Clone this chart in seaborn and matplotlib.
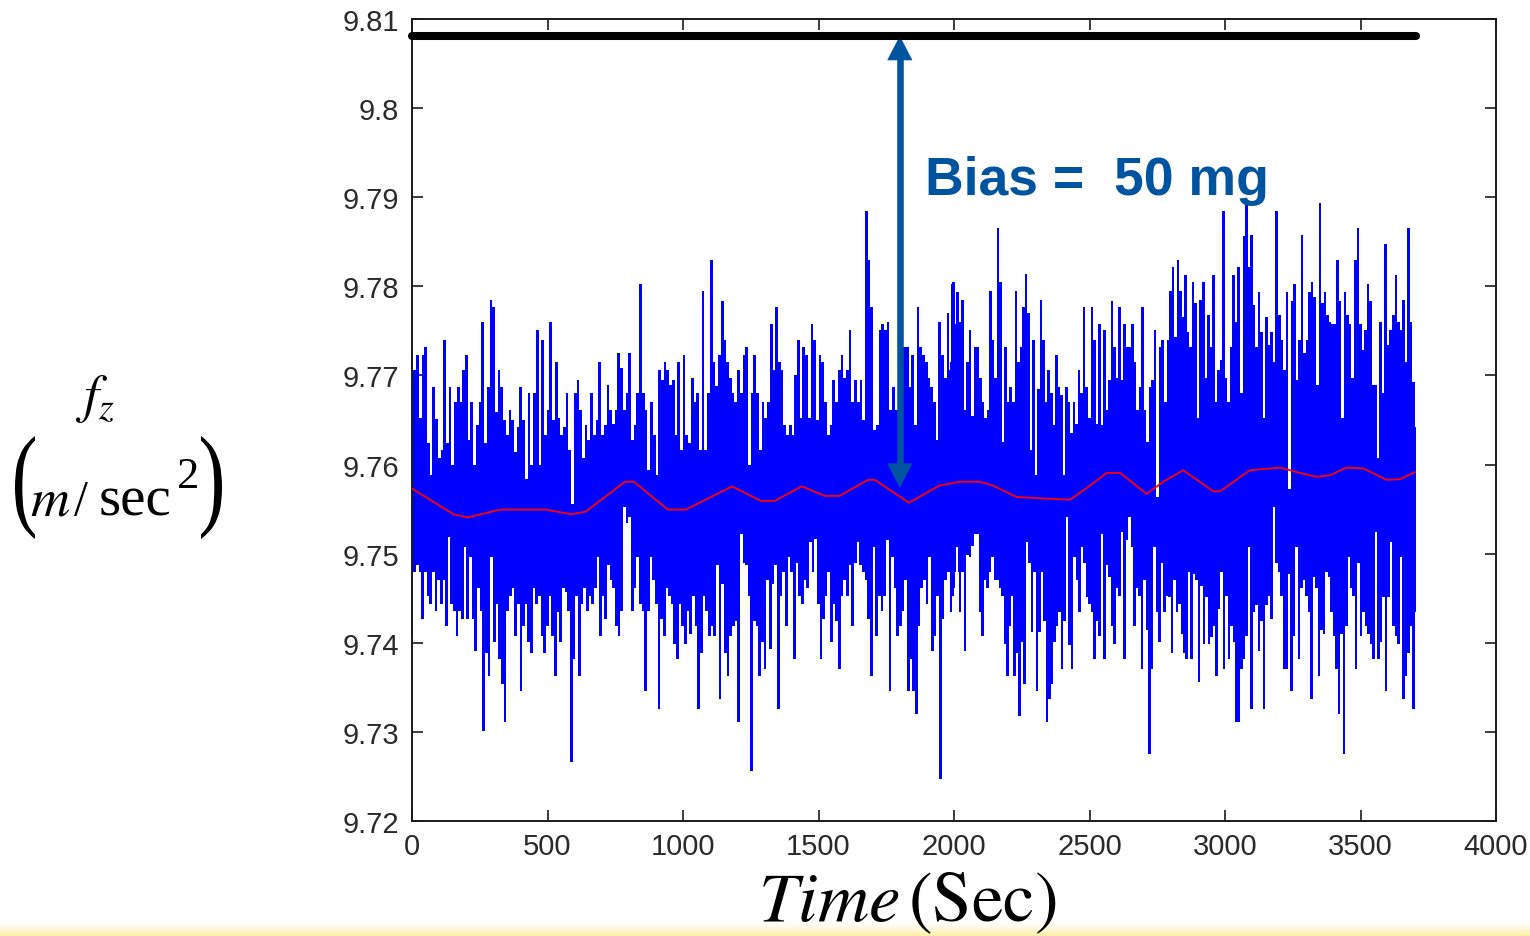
import numpy as np
import matplotlib
matplotlib.use("Agg")
import matplotlib.pyplot as plt
import seaborn as sns
from matplotlib.textpath import TextPath
from matplotlib.patches import PathPatch
from matplotlib.font_manager import FontProperties
import matplotlib.transforms as mtransforms

# ---------------- data ----------------
# blue signal: upper / lower extremes, roughly every 10 s
seg1_span = (0, 2018)
seg1_hi = [9.7706, 9.7706, 9.7723, 9.7652, 9.7723, 9.7732, 9.7624, 9.7588, 9.7687, 9.7651,
           9.7607, 9.7616, 9.7740, 9.7624, 9.7687, 9.7600, 9.7670, 9.7687, 9.7670, 9.7706,
           9.7723, 9.7627, 9.7670, 9.7600, 9.7644, 9.7670, 9.7760, 9.7624, 9.7687, 9.7785,
           9.7777, 9.7659, 9.7706, 9.7687, 9.7650, 9.7633, 9.7661, 9.7650, 9.7614, 9.7642,
           9.7687, 9.7650, 9.7584, 9.7680, 9.7599, 9.7680, 9.7751, 9.7599, 9.7740, 9.7633,
           9.7661, 9.7760, 9.7650, 9.7715, 9.7652, 9.7633, 9.7642, 9.7680, 9.7616, 9.7556,
           9.7680, 9.7695, 9.7661, 9.7607, 9.7644, 9.7627, 9.7680, 9.7633, 9.7650, 9.7715,
           9.7633, 9.7644, 9.7689, 9.7661, 9.7646, 9.7661, 9.7725, 9.7708, 9.7661, 9.7680,
           9.7725, 9.7627, 9.7644, 9.7680, 9.7803, 9.7680, 9.7661, 9.7594, 9.7670, 9.7633,
           9.7588, 9.7706, 9.7695, 9.7715, 9.7706, 9.7689, 9.7695, 9.7633, 9.7715, 9.7616,
           9.7723, 9.7633, 9.7624, 9.7697, 9.7670, 9.7680, 9.7616, 9.7795, 9.7616, 9.7680,
           9.7829, 9.7715, 9.7688, 9.7723, 9.7784, 9.7740, 9.7715, 9.7697, 9.7680, 9.7670,
           9.7706, 9.7680, 9.7723, 9.7732, 9.7599, 9.7680, 9.7723, 9.7680, 9.7616, 9.7670,
           9.7652, 9.7670, 9.7758, 9.7706, 9.7777, 9.7715, 9.7706, 9.7644, 9.7633, 9.7644,
           9.7633, 9.7700, 9.7740, 9.7652, 9.7732, 9.7723, 9.7652, 9.7758, 9.7740, 9.7650,
           9.7723, 9.7715, 9.7670, 9.7633, 9.7644, 9.7695, 9.7670, 9.7706, 9.7723, 9.7697,
           9.7706, 9.7751, 9.7670, 9.7695, 9.7670, 9.7695, 9.7650, 9.7884, 9.7829, 9.7777,
           9.7639, 9.7644, 9.7751, 9.7758, 9.7751, 9.7760, 9.7661, 9.7687, 9.7661, 9.7706,
           9.7680, 9.7732, 9.7732, 9.7687, 9.7723, 9.7644, 9.7777, 9.7732, 9.7723, 9.7715,
           9.7697, 9.7687, 9.7670, 9.7627, 9.7760, 9.7723, 9.7697, 9.7770, 9.7706, 9.7805,
           9.7758, 9.7659]
seg1_lo = [9.7408, 9.7479, 9.7487, 9.7479, 9.7427, 9.7479, 9.7453, 9.7444, 9.7479, 9.7436,
           9.7470, 9.7444, 9.7470, 9.7419, 9.7519, 9.7444, 9.7436, 9.7408, 9.7436, 9.7427,
           9.7507, 9.7427, 9.7496, 9.7427, 9.7391, 9.7462, 9.7436, 9.7301, 9.7389, 9.7363,
           9.7496, 9.7401, 9.7444, 9.7382, 9.7354, 9.7311, 9.7436, 9.7453, 9.7462, 9.7408,
           9.7444, 9.7346, 9.7419, 9.7444, 9.7401, 9.7389, 9.7462, 9.7444, 9.7453, 9.7408,
           9.7389, 9.7419, 9.7453, 9.7408, 9.7363, 9.7434, 9.7401, 9.7462, 9.7457, 9.7436,
           9.7266, 9.7382, 9.7453, 9.7363, 9.7444, 9.7462, 9.7436, 9.7453, 9.7444, 9.7462,
           9.7496, 9.7408, 9.7453, 9.7427, 9.7487, 9.7470, 9.7462, 9.7419, 9.7408, 9.7436,
           9.7552, 9.7534, 9.7541, 9.7436, 9.7462, 9.7496, 9.7444, 9.7436, 9.7346, 9.7436,
           9.7496, 9.7470, 9.7444, 9.7326, 9.7427, 9.7408, 9.7462, 9.7453, 9.7444, 9.7399,
           9.7382, 9.7444, 9.7419, 9.7399, 9.7436, 9.7410, 9.7453, 9.7419, 9.7326, 9.7389,
           9.7453, 9.7436, 9.7408, 9.7419, 9.7408, 9.7487, 9.7337, 9.7466, 9.7389, 9.7363,
           9.7408, 9.7419, 9.7425, 9.7311, 9.7522, 9.7489, 9.7487, 9.7453, 9.7256, 9.7425,
           9.7419, 9.7363, 9.7401, 9.7371, 9.7470, 9.7393, 9.7466, 9.7487, 9.7326, 9.7453,
           9.7479, 9.7419, 9.7496, 9.7479, 9.7382, 9.7489, 9.7453, 9.7444, 9.7470, 9.7462,
           9.7513, 9.7479, 9.7517, 9.7444, 9.7382, 9.7427, 9.7453, 9.7479, 9.7401, 9.7444,
           9.7425, 9.7371, 9.7453, 9.7470, 9.7453, 9.7487, 9.7419, 9.7489, 9.7513, 9.7487,
           9.7479, 9.7470, 9.7427, 9.7363, 9.7507, 9.7408, 9.7453, 9.7436, 9.7453, 9.7515,
           9.7346, 9.7496, 9.7462, 9.7408, 9.7419, 9.7436, 9.7470, 9.7346, 9.7382, 9.7346,
           9.7320, 9.7419, 9.7462, 9.7470, 9.7444, 9.7496, 9.7391, 9.7408, 9.7453, 9.7247,
           9.7427, 9.7470, 9.7479, 9.7434, 9.7462, 9.7509, 9.7479]
seg2_span = (1985, 3705)
seg2_hi = [9.7715, 9.7803, 9.7715, 9.7794, 9.7760, 9.7785, 9.7661, 9.7715, 9.7751, 9.7655,
           9.7732, 9.7732, 9.7697, 9.7670, 9.7652, 9.7661, 9.7795, 9.7740, 9.7697, 9.7866,
           9.7805, 9.7625, 9.7732, 9.7670, 9.7687, 9.7670, 9.7795, 9.7715, 9.7732, 9.7777,
           9.7814, 9.7770, 9.7616, 9.7740, 9.7588, 9.7685, 9.7785, 9.7740, 9.7670, 9.7706,
           9.7680, 9.7644, 9.7723, 9.7687, 9.7678, 9.7588, 9.7687, 9.7670, 9.7635, 9.7670,
           9.7646, 9.7706, 9.7680, 9.7777, 9.7687, 9.7652, 9.7777, 9.7740, 9.7646, 9.7758,
           9.7644, 9.7751, 9.7661, 9.7695, 9.7783, 9.7732, 9.7697, 9.7777, 9.7695, 9.7758,
           9.7732, 9.7732, 9.7758, 9.7715, 9.7661, 9.7687, 9.7777, 9.7661, 9.7625, 9.7687,
           9.7695, 9.7751, 9.7564, 9.7732, 9.7740, 9.7670, 9.7740, 9.7795, 9.7822, 9.7743,
           9.7829, 9.7795, 9.7766, 9.7813, 9.7749, 9.7732, 9.7805, 9.7781, 9.7652, 9.7785,
           9.7805, 9.7697, 9.7768, 9.7732, 9.7813, 9.7670, 9.7706, 9.7717, 9.7884, 9.7697,
           9.7670, 9.7732, 9.7813, 9.7760, 9.7822, 9.7680, 9.7856, 9.7891, 9.7822, 9.7858,
           9.7779, 9.7732, 9.7794, 9.7749, 9.7652, 9.7766, 9.7734, 9.7749, 9.7715, 9.7884,
           9.7768, 9.7740, 9.7706, 9.7794, 9.7573, 9.7783, 9.7803, 9.7695, 9.7740, 9.7858,
           9.7725, 9.7740, 9.7794, 9.7805, 9.7788, 9.7689, 9.7893, 9.7781, 9.7794, 9.7768,
           9.7760, 9.7758, 9.7758, 9.7829, 9.7783, 9.7652, 9.7794, 9.7768, 9.7758, 9.7697,
           9.7829, 9.7866, 9.7758, 9.7728, 9.7751, 9.7803, 9.7783, 9.7689, 9.7689, 9.7607,
           9.7760, 9.7680, 9.7848, 9.7734, 9.7751, 9.7768, 9.7813, 9.7760, 9.7751, 9.7785,
           9.7715, 9.7866, 9.7760, 9.7693, 9.7642]
seg2_lo = [9.7462, 9.7453, 9.7479, 9.7507, 9.7434, 9.7479, 9.7391, 9.7498, 9.7496, 9.7509,
           9.7522, 9.7522, 9.7434, 9.7408, 9.7470, 9.7462, 9.7479, 9.7496, 9.7470, 9.7470,
           9.7462, 9.7453, 9.7399, 9.7363, 9.7419, 9.7453, 9.7363, 9.7389, 9.7318, 9.7401,
           9.7354, 9.7513, 9.7489, 9.7412, 9.7479, 9.7346, 9.7412, 9.7479, 9.7425, 9.7311,
           9.7337, 9.7354, 9.7401, 9.7419, 9.7434, 9.7371, 9.7425, 9.7541, 9.7397, 9.7371,
           9.7496, 9.7470, 9.7434, 9.7507, 9.7489, 9.7451, 9.7444, 9.7434, 9.7382, 9.7425,
           9.7408, 9.7522, 9.7382, 9.7487, 9.7474, 9.7419, 9.7399, 9.7462, 9.7453, 9.7524,
           9.7382, 9.7515, 9.7541, 9.7507, 9.7419, 9.7462, 9.7453, 9.7371, 9.7470, 9.7414,
           9.7275, 9.7371, 9.7507, 9.7434, 9.7401, 9.7489, 9.7434, 9.7453, 9.7451, 9.7389,
           9.7470, 9.7434, 9.7444, 9.7410, 9.7389, 9.7382, 9.7479, 9.7382, 9.7477, 9.7470,
           9.7356, 9.7464, 9.7399, 9.7451, 9.7399, 9.7406, 9.7419, 9.7363, 9.7438, 9.7479,
           9.7371, 9.7453, 9.7382, 9.7419, 9.7401, 9.7311, 9.7311, 9.7371, 9.7382, 9.7408,
           9.7507, 9.7326, 9.7434, 9.7442, 9.7391, 9.7425, 9.7326, 9.7442, 9.7453, 9.7427,
           9.7552, 9.7489, 9.7479, 9.7453, 9.7371, 9.7371, 9.7477, 9.7346, 9.7408, 9.7507,
           9.7382, 9.7462, 9.7470, 9.7453, 9.7434, 9.7337, 9.7474, 9.7462, 9.7363, 9.7414,
           9.7410, 9.7479, 9.7474, 9.7434, 9.7408, 9.7371, 9.7320, 9.7410, 9.7275, 9.7419,
           9.7496, 9.7462, 9.7453, 9.7371, 9.7489, 9.7408, 9.7434, 9.7419, 9.7410, 9.7399,
           9.7382, 9.7524, 9.7382, 9.7401, 9.7451, 9.7346, 9.7451, 9.7513, 9.7419, 9.7408,
           9.7399, 9.7496, 9.7337, 9.7363, 9.7389, 9.7419, 9.7326, 9.7434]
core_level = 9.7554

# red mean curve
red_t = [0, 153, 206, 325, 496, 588, 641, 786, 819, 944, 1010, 1181, 1287, 1339, 1438,
         1524, 1577, 1682, 1708, 1834, 1946, 2022, 2096, 2144, 2231, 2366, 2428, 2502,
         2563, 2613, 2711, 2772, 2846, 2957, 2982, 3092, 3203, 3277, 3338, 3387, 3449,
         3510, 3597, 3646, 3701]
red_v = [9.75731, 9.75442, 9.75407, 9.75494, 9.75494, 9.75442, 9.75472, 9.75807, 9.75807,
         9.75494, 9.75494, 9.75755, 9.75593, 9.75593, 9.75755, 9.75648, 9.75648, 9.75828,
         9.75828, 9.75571, 9.75764, 9.75807, 9.75807, 9.75764, 9.75636, 9.75614, 9.75605,
         9.75764, 9.75906, 9.75906, 9.75670, 9.75807, 9.75936, 9.75700, 9.75700, 9.75936,
         9.75966, 9.75906, 9.75863, 9.75880, 9.75966, 9.75957, 9.75828, 9.75837, 9.75915]

# true gravity line and bias arrow
bias_level = 9.8081
bias_t = [0, 3705]
arrow_t = 1800
arrow_bottom = 9.7574
bias_text = "Bias =  50 mg"

x_ticks = [0, 500, 1000, 1500, 2000, 2500, 3000, 3500, 4000]
x_tick_labels = ["0", "500", "1000", "1500", "2000", "2500", "3000", "3500", "4000"]
y_ticks = [9.72, 9.73, 9.74, 9.75, 9.76, 9.77, 9.78, 9.79, 9.80, 9.81]
y_tick_labels = ["9.72", "9.73", "9.74", "9.75", "9.76", "9.77", "9.78", "9.79", "9.8", "9.81"]

# ---------------- style ----------------
sns.set_style("ticks")
plt.rcParams["font.family"] = ["Liberation Sans", "DejaVu Sans"]
plt.rcParams["mathtext.fontset"] = "stix"

W, H = 1530, 937
fig = plt.figure(figsize=(W / 100, H / 100), dpi=100)
fig.patch.set_facecolor("white")

# slide's yellow strip at the bottom
bax = fig.add_axes([0, 0, 1, 16 / H])
bax.set_zorder(-1)
s = np.linspace(0, 1, 64) ** 1.6
top_c = np.array([1.0, 1.0, 1.0])
bot_c = np.array([1.0, 0.937, 0.64])
grad = (top_c[None, :] * (1 - s[:, None]) + bot_c[None, :] * s[:, None])[:, None, :]
bax.imshow(grad, aspect="auto", extent=[0, 1, 0, 1], interpolation="bilinear")
bax.axis("off")

ax = fig.add_axes([412 / W, 1 - 822 / H, (1496 - 412) / W, (822 - 20) / H])
ax.set_facecolor("white")

blue = "#0000ff"
for span, hi, lo in [(seg1_span, seg1_hi, seg1_lo), (seg2_span, seg2_hi, seg2_lo)]:
    th = np.linspace(span[0], span[1], len(hi))
    tl = np.linspace(span[0], span[1], len(lo))
    ax.fill_between(th, core_level - 0.0002, hi, step="mid", color=blue, lw=0, zorder=2)
    ax.fill_between(tl, lo, core_level + 0.0002, step="mid", color=blue, lw=0, zorder=2)

sns.lineplot(x=red_t, y=red_v, ax=ax, color="#ff0000", lw=1.3, sort=False, zorder=3)
sns.lineplot(x=bias_t, y=[bias_level, bias_level], ax=ax, color="black", lw=5.8,
             sort=False, zorder=5, solid_capstyle="round", clip_on=False)

arrow_c = "#00549f"
ax.plot([arrow_t, arrow_t], [arrow_bottom + 0.0021, bias_level - 0.0021], color=arrow_c,
        lw=4.7, solid_capstyle="butt", zorder=4)
ax.annotate("", xy=(arrow_t, bias_level), xytext=(arrow_t, arrow_bottom),
            arrowprops=dict(arrowstyle="<|-|>,head_length=0.83,head_width=0.43",
                            mutation_scale=20, lw=0.6, color=arrow_c,
                            shrinkA=0, shrinkB=0), zorder=4)
ax.text(1893, 9.79037, bias_text, color=arrow_c, fontsize=38.5, fontweight="bold",
        ha="left", va="baseline", zorder=6)

ax.set_xlim(0, 4000)
ax.set_ylim(9.72, 9.81)
ax.set_xticks(x_ticks)
ax.set_xticklabels(x_tick_labels)
ax.set_yticks(y_ticks)
ax.set_yticklabels(y_tick_labels)
ax.tick_params(direction="in", top=True, right=True, length=8, width=1.2,
               color="#1a1a1a", labelsize=21, labelcolor="#2a2a2a")
ax.tick_params(axis="x", pad=8)
ax.tick_params(axis="y", pad=9)
for sp in ax.spines.values():
    sp.set_visible(True)
    sp.set_linewidth(1.4)
    sp.set_color("#1a1a1a")
ax.set_xlabel("")
ax.set_ylabel("")

# axis titles (figure text)
fig.text(907 / W, (H - 921) / H, r"$\mathit{Time}\,(\mathrm{Sec})$", fontsize=51,
         ha="center", va="baseline", color="black")
fig.text(76 / W, (H - 412) / H, r"$f_z$", fontsize=39, ha="left", va="baseline",
         color="black")
fig.text(30 / W, (H - 515) / H, r"$m$", fontsize=39, ha="left", va="baseline",
         color="black")
fig.text(74 / W, (H - 515) / H, "/", fontsize=36, ha="left", va="baseline",
         color="black", family="Liberation Serif")
fig.text(99 / W, (H - 515) / H, "sec", fontsize=41, ha="left", va="baseline",
         color="black", family="Liberation Serif")
fig.text(177 / W, (H - 488) / H, "2", fontsize=32, ha="left", va="baseline",
         color="black", family="Liberation Serif")

# tall stretched parentheses
fp = FontProperties(family="Liberation Serif")
for ch, x0, x1 in [("(", 15, 35), (")", 201, 222)]:
    path = TextPath((0, 0), ch, size=55, prop=fp)
    bb = path.get_extents()
    y0, y1 = H - 540, H - 437
    tr = (mtransforms.Affine2D().translate(-bb.x0, -bb.y0)
          .scale((x1 - x0) / bb.width, (y1 - y0) / bb.height).translate(x0, y0))
    fig.add_artist(PathPatch(path, transform=tr, color="black", lw=0))

fig.savefig("out.png", dpi=100)
